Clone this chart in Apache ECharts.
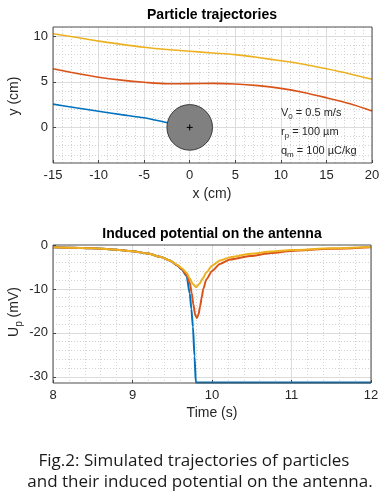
<!DOCTYPE html>
<html><head><meta charset="utf-8">
<script src="https://cdn.jsdelivr.net/npm/echarts@6/dist/echarts.min.js"></script>
<style>html,body{margin:0;padding:0;background:#fff;}#c{width:392px;height:500px;}</style>
</head><body><div id="c"></div>
<script>
// ---- Top plot: particle trajectories (cm) ----
const trajX = [-15, -12.5, -10, -7.5, -5, -2.5, 0, 2.5, 5, 7.5, 10, 12.5, 15, 17.5, 20];
const trajYellow = [10.26, 9.88, 9.45, 9.1, 8.78, 8.53, 8.34, 8.15, 7.97, 7.66, 7.3, 6.92, 6.42, 5.88, 5.28];
const trajOrange = [6.42, 5.93, 5.5, 5.18, 4.94, 4.78, 4.8, 4.82, 4.76, 4.58, 4.28, 3.83, 3.25, 2.62, 1.8];
const blueX = [-15, -12.5, -10, -7.5, -5, -2.45];
const trajBlue = [2.55, 2.15, 1.77, 1.4, 1.05, 0.5];
const antenna = [0, 0, 2.5]; // centre x, centre y, radius (cm)
const xTicksTop = [-15, -10, -5, 0, 5, 10, 15, 20];
const yTicksTop = [0, 5, 10];

// ---- Bottom plot: induced potential (mV) vs time (s) ----
const tYellow = [8, 8.25, 8.5, 8.75, 9, 9.2, 9.35, 9.47, 9.56, 9.62, 9.68, 9.72, 9.76, 9.8, 9.84, 9.88, 9.93, 10, 10.1, 10.23, 10.48, 10.75, 11, 11.5, 12];
const uYellow = [-0.5, -0.6, -0.75, -1.0, -1.4, -1.95, -2.7, -3.5, -4.5, -5.3, -6.3, -7.6, -8.9, -9.6, -8.9, -7.7, -6.2, -4.7, -3.5, -2.8, -2.0, -1.5, -1.15, -0.75, -0.45];
const tOrange = [8, 8.25, 8.5, 8.75, 9, 9.2, 9.35, 9.47, 9.56, 9.62, 9.68, 9.72, 9.745, 9.765, 9.79, 9.81, 9.83, 9.85, 9.87, 9.89, 9.93, 10, 10.1, 10.23, 10.48, 10.75, 11, 11.5, 12];
const uOrange = [-0.5, -0.6, -0.75, -1.0, -1.4, -1.95, -2.7, -3.5, -4.6, -5.5, -6.8, -8.6, -10.9, -13.5, -16.0, -16.6, -15.8, -14.0, -12.0, -10.0, -7.8, -5.9, -4.3, -3.3, -2.5, -1.8, -1.35, -0.85, -0.5];
const tBlue = [8, 8.25, 8.5, 8.75, 9, 9.2, 9.35, 9.47, 9.56, 9.62, 9.68, 9.72, 9.74, 9.76, 9.78, 9.797, 12];
const uBlue = [-0.5, -0.6, -0.75, -1.0, -1.4, -1.95, -2.7, -3.5, -4.6, -5.6, -7.0, -11.0, -14.5, -18.6, -25.3, -31.3, -31.3];
const xTicksBot = [8, 9, 10, 11, 12];
const yTicksBot = [-30, -20, -10, 0];

const FONT = 'Liberation Sans';
const TXT = '#262626';
const MAJOR = '#dcdcdc';
const MINOR = '#d2d2d2';
const C_BLUE = '#0072BD', C_ORANGE = '#D95319', C_YELLOW = '#EDB120';

function pairs(xs, ys) { return xs.map((x, i) => [x, ys[i]]); }

function gridLines(majors, minorStep, lo, hi) {
  const d = [];
  majors.forEach(v => { if (v > lo && v < hi) d.push({ yAxis: v, lineStyle: { color: MAJOR, type: 'solid', width: 1 } }); });
  const start = Math.ceil(lo / minorStep) * minorStep;
  for (let v = start; v < hi; v += minorStep) {
    const r = Math.round(v * 1000) / 1000;
    if (majors.indexOf(r) === -1 && r > lo) d.push({ yAxis: r, lineStyle: { color: MINOR, type: [1, 2], width: 1 } });
  }
  return d;
}

const topYMin = -3.9, topYMax = 11.0;
const botYMin = -31.4, botYMax = 0;

function xAxisCfg(idx, min, max, interval) {
  return {
    type: 'value', gridIndex: idx, min, max, interval,
    axisLine: { show: false, onZero: false },
    axisTick: { show: true, inside: true, length: 3, lineStyle: { color: '#444' } },
    axisLabel: { fontFamily: FONT, fontSize: 13, color: TXT, margin: 6 },
    splitLine: { show: true, lineStyle: { color: MAJOR, width: 1 } },
    minorTick: { show: false, splitNumber: 5 },
    minorSplitLine: { show: true, lineStyle: { color: MINOR, type: [1, 2], width: 1 } },
    z: 0
  };
}
function yAxisCfg(idx, min, max, ticks) {
  return {
    type: 'value', gridIndex: idx, min, max,
    axisLine: { show: false, onZero: false },
    axisTick: { show: true, inside: true, length: 3, customValues: ticks, lineStyle: { color: '#444' } },
    axisLabel: { fontFamily: FONT, fontSize: 13, color: TXT, margin: 5, customValues: ticks },
    splitLine: { show: false },
    z: 0
  };
}

const chart = echarts.init(document.getElementById('c'), null, { renderer: 'canvas' });

const option = {
  animation: false,
  backgroundColor: '#fff',
  title: [
    { text: 'Particle trajectories', left: 212, top: 8, padding: 0, textAlign: 'center',
      textStyle: { fontFamily: FONT, fontSize: 14, fontWeight: 'bold', color: '#000' } },
    { text: 'Induced potential on the antenna', left: 212, top: 227, padding: 0, textAlign: 'center',
      textStyle: { fontFamily: FONT, fontSize: 14, fontWeight: 'bold', color: '#000' } }
  ],
  grid: [
    { left: 53, top: 27, width: 319, height: 136, show: true, borderColor: '#4d4d4d', borderWidth: 1, backgroundColor: 'transparent', z: 5 },
    { left: 53, top: 245, width: 318, height: 138, show: true, borderColor: '#4d4d4d', borderWidth: 1, backgroundColor: 'transparent', z: 5 }
  ],
  xAxis: [ xAxisCfg(0, -15, 20, 5), xAxisCfg(1, 8, 12, 1) ],
  yAxis: [ yAxisCfg(0, topYMin, topYMax, yTicksTop), yAxisCfg(1, botYMin, botYMax, yTicksBot) ],
  series: [
    { type: 'line', xAxisIndex: 0, yAxisIndex: 0, data: [], silent: true, z: 0,
      markLine: { z: 0, symbol: ['none', 'none'], silent: true, label: { show: false }, animation: false,
        data: gridLines(yTicksTop, 1, topYMin, topYMax) } },
    { type: 'line', xAxisIndex: 1, yAxisIndex: 1, data: [], silent: true, z: 0,
      markLine: { z: 0, symbol: ['none', 'none'], silent: true, label: { show: false }, animation: false,
        data: gridLines(yTicksBot, 2, botYMin, botYMax) } },

    { name: 'blueTraj', type: 'line', xAxisIndex: 0, yAxisIndex: 0, data: pairs(blueX, trajBlue),
      showSymbol: false, smooth: 0.3, lineStyle: { color: C_BLUE, width: 1.6 }, z: 3 },
    { name: 'orangeTraj', type: 'line', xAxisIndex: 0, yAxisIndex: 0, data: pairs(trajX, trajOrange),
      showSymbol: false, smooth: 0.3, lineStyle: { color: C_ORANGE, width: 1.6 }, z: 3 },
    { name: 'yellowTraj', type: 'line', xAxisIndex: 0, yAxisIndex: 0, data: pairs(trajX, trajYellow),
      showSymbol: false, smooth: 0.3, lineStyle: { color: C_YELLOW, width: 1.6 }, z: 3 },
    { name: 'antenna', type: 'custom', xAxisIndex: 0, yAxisIndex: 0, data: [antenna], z: 4,
      renderItem: function (params, api) {
        const c = api.coord([api.value(0), api.value(1)]);
        const r = api.size([api.value(2), 0])[0];
        return { type: 'group', children: [
          { type: 'circle', shape: { cx: c[0], cy: c[1], r: r }, style: { fill: '#808080', stroke: '#3a3a3a', lineWidth: 1 } },
          { type: 'line', shape: { x1: c[0] - 3, y1: c[1], x2: c[0] + 3, y2: c[1] }, style: { stroke: '#000', lineWidth: 1 } },
          { type: 'line', shape: { x1: c[0], y1: c[1] - 3, x2: c[0], y2: c[1] + 3 }, style: { stroke: '#000', lineWidth: 1 } }
        ] };
      } },

    { name: 'blueU', type: 'line', xAxisIndex: 1, yAxisIndex: 1, data: pairs(tBlue, uBlue),
      showSymbol: false, smooth: 0.25, smoothMonotone: 'x', lineStyle: { color: C_BLUE, width: 2 }, z: 3 },
    { name: 'orangeU', type: 'line', xAxisIndex: 1, yAxisIndex: 1, data: pairs(tOrange, uOrange),
      showSymbol: false, smooth: 0.25, smoothMonotone: 'x', lineStyle: { color: C_ORANGE, width: 2 }, z: 3 },
    { name: 'yellowU', type: 'line', xAxisIndex: 1, yAxisIndex: 1, data: pairs(tYellow, uYellow),
      showSymbol: false, smooth: 0.25, smoothMonotone: 'x', lineStyle: { color: C_YELLOW, width: 2 }, z: 3 }
  ],
  graphic: [
    { type: 'text', x: 281, y: 113, z: 10, style: { text: '{a|V}{s|0}{a| = 0.5 m/s}', verticalAlign: 'middle',
      rich: { a: { fontFamily: FONT, fontSize: 11, fill: TXT }, s: { fontFamily: FONT, fontSize: 8, fill: TXT, padding: [8, 0, 0, 0] } } } },
    { type: 'text', x: 281, y: 132, z: 10, style: { text: '{a|r}{s|p}{a| = 100 µm}', verticalAlign: 'middle',
      rich: { a: { fontFamily: FONT, fontSize: 11, fill: TXT }, s: { fontFamily: FONT, fontSize: 8, fill: TXT, padding: [8, 0, 0, 0] } } } },
    { type: 'text', x: 281, y: 151, z: 10, style: { text: '{a|q}{s|m}{a| = 100 µC/kg}', verticalAlign: 'middle',
      rich: { a: { fontFamily: FONT, fontSize: 11, fill: TXT }, s: { fontFamily: FONT, fontSize: 8, fill: TXT, padding: [8, 0, 0, 0] } } } },

    { type: 'text', x: 212, y: 194, style: { text: 'x (cm)', align: 'center', verticalAlign: 'middle', fontFamily: FONT, fontSize: 14, fill: TXT } },
    { type: 'text', x: 14, y: 96, rotation: Math.PI / 2, style: { text: 'y (cm)', align: 'center', verticalAlign: 'middle', fontFamily: FONT, fontSize: 14, fill: TXT } },
    { type: 'text', x: 212, y: 413, style: { text: 'Time (s)', align: 'center', verticalAlign: 'middle', fontFamily: FONT, fontSize: 14, fill: TXT } },
    { type: 'text', x: 14, y: 312, rotation: Math.PI / 2, style: { text: '{a|U}{s|p}{a| (mV)}', align: 'center', verticalAlign: 'middle',
      rich: { a: { fontFamily: FONT, fontSize: 14, fill: TXT }, s: { fontFamily: FONT, fontSize: 10, fill: TXT, padding: [10, 0, 0, 0] } } } },

    { type: 'text', x: 194, y: 461, style: { text: 'Fig.2: Simulated trajectories of particles', align: 'center', verticalAlign: 'middle', fontFamily: 'Open Sans', fontSize: 17, fill: '#1a1a1a' } },
    { type: 'text', x: 200, y: 482, style: { text: 'and their induced potential on the antenna.', align: 'center', verticalAlign: 'middle', fontFamily: 'Open Sans', fontSize: 17, fill: '#1a1a1a' } }
  ]
};
chart.setOption(option);
</script></body></html>
